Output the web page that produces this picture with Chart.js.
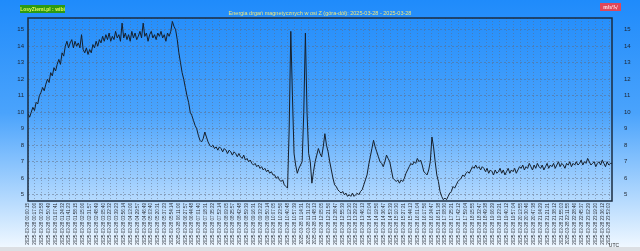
<!DOCTYPE html>
<html>
<head>
<meta charset="utf-8">
<script src="https://cdn.jsdelivr.net/npm/chart.js@4"></script>
<style>
  html, body { margin: 0; padding: 0; overflow: hidden; background: #fff; }
  canvas { display: block; }
</style>
</head>
<body>
<canvas id="wykres" width="640" height="251"></canvas>
<script>
// dane (krok 4 minuty, 2025-03-28 00:00 - 24:00 UTC)
const krokMin = 4;
const energia = [
  9.9, 9.7, 10.0, 10.3, 10.1, 10.6, 10.5, 11.0, 11.2, 11.5,
  11.3, 11.7, 12.0, 11.8, 12.4, 12.2, 12.7, 12.5, 12.9, 13.2,
  12.9, 13.6, 13.4, 14.0, 14.3, 13.9, 14.2, 14.4, 13.9, 14.3,
  14.0, 14.2, 13.9, 14.7, 13.8, 13.6, 13.9, 13.5, 13.8, 13.6,
  14.1, 13.9, 14.3, 14.0, 14.4, 14.2, 14.6, 14.3, 14.7, 14.4,
  14.8, 14.3, 14.6, 14.4, 14.9, 14.5, 14.7, 14.3, 15.4, 14.5,
  14.8, 14.4, 14.7, 14.3, 14.9, 14.5, 14.8, 14.4, 14.6, 14.9,
  14.5, 15.4, 14.6, 14.8, 14.3, 14.7, 14.9, 14.5, 14.7, 14.4,
  14.8, 14.6, 14.9, 14.5, 14.7, 14.3, 14.8, 14.6, 14.9, 15.5,
  15.2, 15.0, 14.4, 13.6, 13.0, 12.4, 12.0, 11.5, 11.0, 10.6,
  10.0, 9.8, 9.5, 9.2, 9.0, 8.6, 8.3, 8.2, 8.4, 8.8,
  8.5, 8.2, 8.0, 7.9, 8.0, 7.8, 7.9, 7.7, 7.9, 7.8,
  7.6, 7.8, 7.7, 7.5, 7.7, 7.6, 7.4, 7.6, 7.5, 7.3,
  7.5, 7.3, 7.2, 7.4, 7.1, 7.2, 7.0, 7.1, 6.9, 6.8,
  6.9, 6.7, 6.8, 6.6, 6.7, 6.5, 6.6, 6.4, 6.5, 6.3,
  6.4, 6.2, 6.2, 6.0, 6.1, 5.9, 5.8, 5.9, 5.6, 5.5,
  5.4, 9.0, 14.9, 11.0, 7.5, 6.8, 6.3, 6.6, 6.8, 7.0,
  10.0, 14.8, 10.0, 7.5, 7.0, 5.7, 6.4, 7.0, 7.4, 7.8,
  7.5, 7.3, 7.9, 8.7, 8.0, 7.6, 7.0, 6.5, 6.0, 5.6,
  5.5, 5.3, 5.2, 5.1, 5.2, 5.0, 5.1, 4.9, 5.0, 4.9,
  5.1, 4.9, 5.0, 5.1, 5.0, 5.2, 5.3, 5.6, 5.9, 6.2,
  6.8, 7.3, 7.8, 8.3, 7.9, 7.6, 7.3, 7.0, 6.9, 6.7,
  7.0, 7.4, 7.2, 7.0, 6.5, 6.0, 5.9, 5.8, 5.9, 5.7,
  5.9, 5.8, 6.0, 6.3, 6.5, 6.7, 6.9, 6.8, 7.0, 6.9,
  7.2, 7.0, 7.1, 6.8, 6.4, 6.3, 6.2, 6.5, 7.0, 8.5,
  7.9, 7.0, 6.2, 5.8, 5.2, 4.9, 4.7, 4.8, 4.7, 4.9,
  5.1, 5.2, 5.5, 5.4, 5.6, 5.8, 5.9, 6.0, 6.2, 6.1,
  6.3, 6.4, 6.3, 6.5, 6.7, 6.6, 6.8, 6.6, 6.7, 6.5,
  6.7, 6.6, 6.4, 6.6, 6.3, 6.5, 6.4, 6.2, 6.5, 6.3,
  6.4, 6.6, 6.3, 6.5, 6.2, 6.4, 6.6, 6.3, 6.5, 6.4,
  6.6, 6.3, 6.5, 6.7, 6.6, 6.8, 6.5, 6.7, 6.6, 6.9,
  6.7, 6.5, 6.8, 6.6, 6.9, 6.7, 6.6, 6.8, 6.5, 6.7,
  6.9, 6.6, 6.8, 6.7, 6.9, 6.6, 6.8, 7.0, 6.7, 6.9,
  6.8, 6.6, 6.9, 6.8, 7.0, 6.7, 6.9, 6.8, 7.0, 6.8,
  6.9, 7.1, 6.8, 7.0, 6.9, 7.2, 7.0, 6.8, 6.9, 7.0,
  6.7, 6.9, 7.0, 6.8, 7.1, 6.9, 6.7, 7.0, 6.8, 6.9,
  6.9
];

const osY = [5, 6, 7, 8, 9, 10, 11, 12, 13, 14, 15];
const dzien = '2025-03-28';
const liczbaEtykiet = 86;

// etykiety osi X co ~17 minut
const etykietyMin = [];
const etykietyX = [];
for (let i = 0; i < liczbaEtykiet; i++) {
  const m = i * 1440 / (liczbaEtykiet - 1) * 0.995 + 0.25;
  etykietyMin.push(m);
  const s = Math.round(m * 60);
  const hh = String(Math.floor(s / 3600)).padStart(2, '0');
  const mm = String(Math.floor(s / 60) % 60).padStart(2, '0');
  const ss = String(s % 60).padStart(2, '0');
  etykietyX.push(dzien + ' ' + hh + ':' + mm + ':' + ss);
}

const punkty = energia.map((v, i) => ({ x: i * krokMin, y: v }));

const siatka = { color: 'rgba(95,105,125,0.5)', lineWidth: 1, drawTicks: false };

const tlo = {
  id: 'tlo',
  beforeDraw(chart) {
    const c = chart.ctx;
    const g = c.createLinearGradient(0, 0, 0, 251);
    g.addColorStop(0, '#1f8bfb');
    g.addColorStop(0.45, '#4aa3fc');
    g.addColorStop(1, '#f4faff');
    c.save();
    c.fillStyle = g;
    c.fillRect(0, 0, 640, 251);
    c.fillStyle = '#dcdfe3';
    c.fillRect(0, 247, 640, 4);
    c.restore();
  },
  afterDraw(chart) {
    const c = chart.ctx;
    const a = chart.chartArea;
    c.save();
    c.strokeStyle = '#1b2c40';
    c.lineWidth = 1.5;
    c.strokeRect(a.left, a.top, a.right - a.left, a.bottom - a.top);

    // plakietka zielona
    c.fillStyle = '#2d9a12';
    c.fillRect(20, 5, 45, 8);
    c.fillStyle = '#e6ff5a';
    c.font = 'bold 5px "Liberation Sans", Arial, sans-serif';
    c.textBaseline = 'middle';
    c.textAlign = 'center';
    c.fillText('LosyZiemi.pl : wibi', 42.5, 9.2);

    // plakietka czerwona
    c.fillStyle = '#e0475a';
    c.fillRect(600, 3, 21, 8);
    c.fillStyle = '#ffe8ec';
    c.fillText('m/s²/√', 610.5, 7.2);

    // tytuł
    c.fillStyle = '#f0e67a';
    c.font = '5.5px "Liberation Sans", Arial, sans-serif';
    c.fillText('Energia drgań magnetycznych w osi Z (góra-dół): 2025-03-28 - 2025-03-28', 320, 13);

    c.fillStyle = '#333';
    c.font = '5px "Liberation Sans", Arial, sans-serif';
    c.fillText('UTC', 614, 246);
    c.restore();
  }
};

new Chart(document.getElementById('wykres'), {
  type: 'line',
  data: {
    datasets: [{
      label: 'Energia',
      data: punkty,
      borderColor: '#16202c',
      borderWidth: 1,
      pointRadius: 0,
      tension: 0,
      fill: false
    }]
  },
  options: {
    responsive: false,
    animation: false,
    layout: { padding: { top: 18, left: 0, right: 0, bottom: 0 } },
    plugins: { legend: { display: false }, tooltip: { enabled: false } },
    scales: {
      x: {
        type: 'linear',
        min: 0,
        max: 1440,
        afterBuildTicks: s => { s.ticks = etykietyMin.map(v => ({ value: v })); },
        afterFit: s => { s.height = 50; },
        ticks: {
          autoSkip: false,
          minRotation: 90,
          maxRotation: 90,
          padding: 2,
          color: '#2a2f38',
          font: { size: 4.5, family: '"Liberation Sans", Arial, sans-serif' },
          callback: (v, i) => etykietyX[i]
        },
        grid: siatka,
        border: { display: false, dash: [1, 2] }
      },
      y: {
        position: 'left',
        min: 4.62,
        max: 15.71,
        afterBuildTicks: s => { s.ticks = osY.map(v => ({ value: v })); },
        afterFit: s => { s.width = 28; },
        ticks: {
          padding: 4,
          color: '#1e2530',
          font: { size: 6, family: '"Liberation Sans", Arial, sans-serif' }
        },
        grid: siatka,
        border: { display: false, dash: [2, 2] }
      },
      y2: {
        position: 'right',
        min: 4.62,
        max: 15.71,
        afterBuildTicks: s => { s.ticks = osY.map(v => ({ value: v })); },
        afterFit: s => { s.width = 28; },
        ticks: {
          padding: 4,
          color: '#1e2530',
          font: { size: 6, family: '"Liberation Sans", Arial, sans-serif' }
        },
        grid: { display: false },
        border: { display: false }
      }
    }
  },
  plugins: [tlo]
});
</script>
</body>
</html>
